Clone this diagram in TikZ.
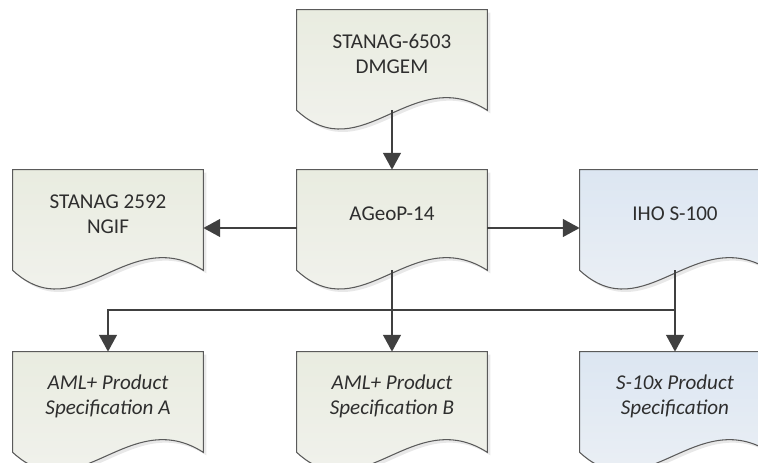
\documentclass[tikz,border=0pt]{standalone}
\usepackage{fontspec}
\setmainfont{Carlito}
\usetikzlibrary{arrows.meta,calc}

\definecolor{edgegrey}{HTML}{5A5A5A}
\definecolor{arrowgrey}{HTML}{404040}
\definecolor{txtgrey}{HTML}{2E2E2E}
\definecolor{greentop}{HTML}{E9ECE0}
\definecolor{greenbot}{HTML}{F3F3F0}
\definecolor{bluetop}{HTML}{DCE6F2}
\definecolor{bluebot}{HTML}{EFF2F5}

\tikzset{
  doc/.style={minimum width=3.8cm, minimum height=2cm, inner sep=0pt},
  doctext/.style={font=\fontsize{12}{14.2}\selectfont, align=center, text=txtgrey, yshift=0.12cm},
  greenfill/.style={top color=greentop, bottom color=greenbot},
  bluefill/.style={top color=bluetop, bottom color=bluebot},
  conn/.style={draw=arrowgrey, line width=1.2pt, -{Triangle[length=9.5pt,width=10pt]}},
  bus/.style={draw=arrowgrey, line width=1.2pt},
}

% document shape round a named node
\newcommand{\docshape}[2]{%
  \fill[black!9] ($(#1.north west)+(3,3)$) -- ($(#1.south west)+(3,3)$)
    .. controls ($(#1.south west)+(68,63)$) and ($(#1.south east)+(-72,-45)$) .. ($(#1.south east)+(3,3)$)
    -- ($(#1.north east)+(3,3)$) -- cycle;
  \path[#2, draw=edgegrey, line width=0.6pt] (#1.north west) -- (#1.south west)
    .. controls ($(#1.south west)+(65,60)$) and ($(#1.south east)+(-75,-48)$) .. (#1.south east)
    -- (#1.north east) -- cycle;
}

\begin{document}
\begin{tikzpicture}[x=0.02cm, y=-0.02cm]
    \useasboundingbox (0,0) rectangle (758,463);
    \clip (0,0) rectangle (758,463);

    % Boxes
    \node[doc] (dmgem) at (392,60) {};
    \node[doc] (ngif) at (108,220) {};
    \node[doc] (ageop) at (392,220) {};
    \node[doc] (iho) at (675,220) {};
    \node[doc] (specA) at (108,402) {};
    \node[doc] (specB) at (392,402) {};
    \node[doc] (sten) at (675,402) {};

    \docshape{dmgem}{greenfill}
    \docshape{ngif}{greenfill}
    \docshape{ageop}{greenfill}
    \docshape{iho}{bluefill}
    \docshape{specA}{greenfill}
    \docshape{specB}{greenfill}
    \docshape{sten}{bluefill}

    % Texts
    \node[doctext] (dmgemtxt) at (dmgem.center) {STANAG-6503\\DMGEM};
    \node[doctext] (ngiftxt) at (ngif.center) {STANAG 2592\\NGIF};
    \node[doctext] (ageoptxt) at (ageop.center) {AGeoP-14};
    \node[doctext] (ihotxt) at (iho.center) {IHO S-100};
    \node[doctext] (specAtxt) at (specA.center) {\itshape AML+ Product\\\itshape Specification A};
    \node[doctext] (specBtxt) at (specB.center) {\itshape AML+ Product\\\itshape Specification B};
    \node[doctext] (stentxt) at (sten.center) {\itshape S-10x Product\\\itshape Specification};

    % Connectors
    \coordinate (split) at (392,310);
    \draw[conn] (dmgem.south) -- (ageop.north);
    \draw[conn] ([yshift=-0.16cm]ageop.west) -- ([yshift=-0.16cm]ngif.east);
    \draw[conn] ([yshift=-0.16cm]ageop.east) -- ([yshift=-0.16cm]iho.west);
    \draw[conn] (ageop.south) -- (specB.north);
    \draw[conn] (split) -| (specA.north);
    \draw[bus] (split) -- (split -| sten.north);
    \draw[conn] (iho.south) -- (sten.north);
\end{tikzpicture}
\end{document}
